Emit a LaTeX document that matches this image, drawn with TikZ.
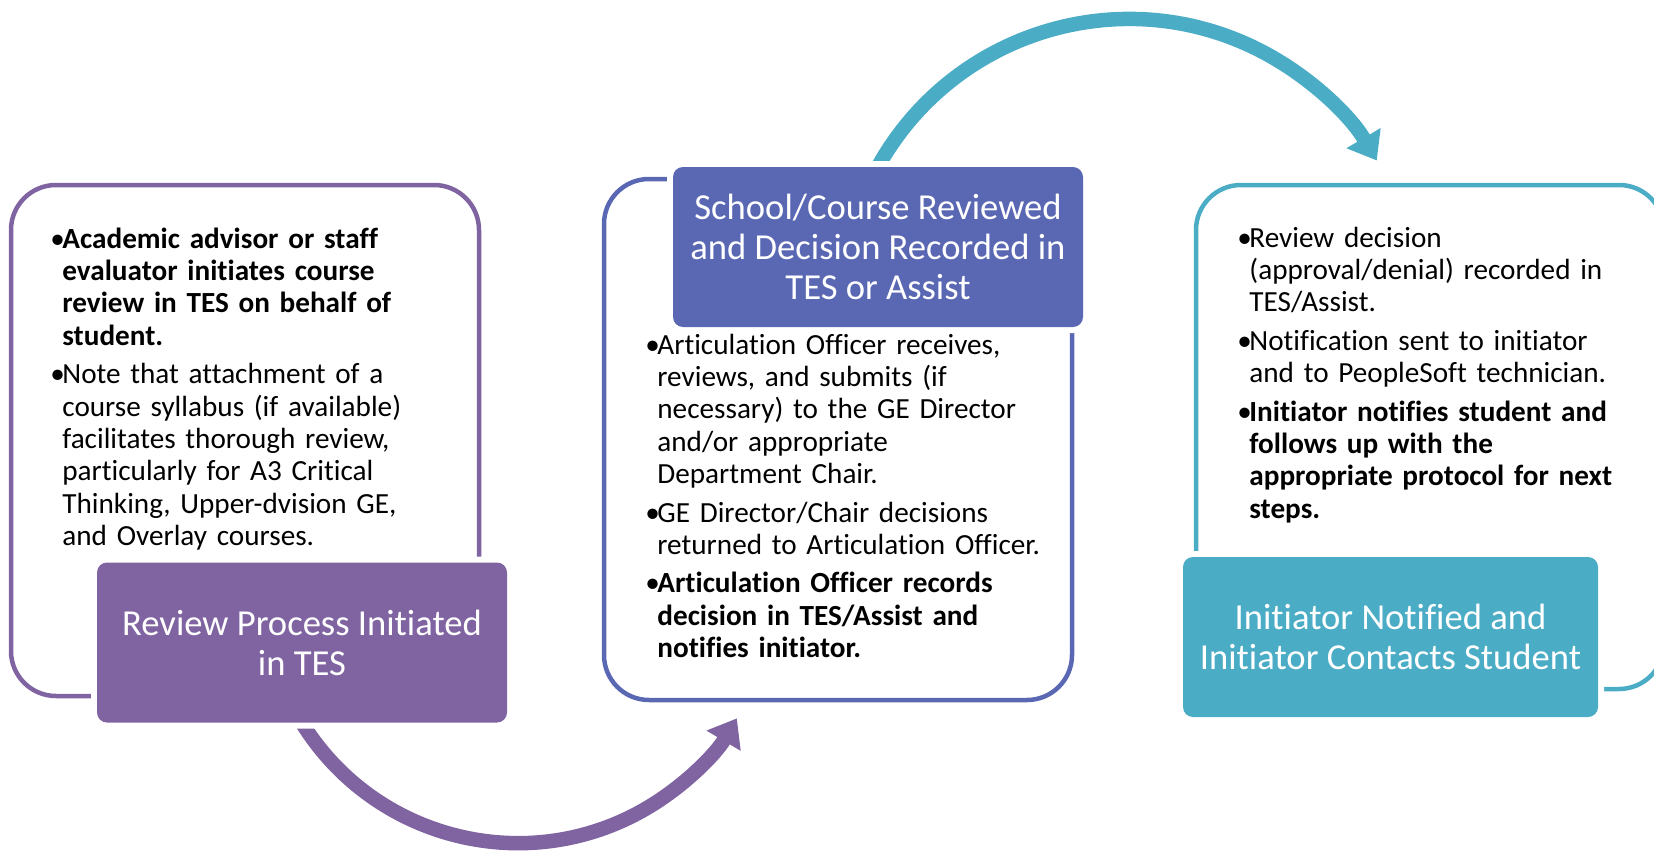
\documentclass[tikz,border=0pt]{standalone}
\usepackage{fontspec}
\setmainfont{Carlito}[Ligatures=NoCommon]
\usetikzlibrary{arrows.meta, backgrounds, positioning}

\definecolor{cyclepurple}{HTML}{8064A2}
\definecolor{cycleblue}{HTML}{5A68B4}
\definecolor{cycleteal}{HTML}{4BACC6}

\newcommand{\itm}[1]{\hangindent=6pt\hangafter=1\makebox[6pt][l]{•}#1\par\vspace{3pt}}

\begin{document}
\begin{tikzpicture}[x=0.5pt, y=-0.5pt,
    panel/.style={draw=#1, line width=2.25pt, rounded corners=22.5pt},
    head/.style={fill=#1, text=white, rounded corners=5pt, align=center,
      minimum width=205pt, minimum height=80pt, inner sep=0pt,
      preaction={draw=white, line width=6pt},
      font=\fontsize{18.3}{20}\selectfont},
    notes/.style={anchor=base west, text width=232pt, inner sep=0pt,
      font=\fontsize{14.6}{16.2}\selectfont},
    flow/.style={draw=#1, line width=7.25pt, -{Triangle[width=19pt, length=13pt]}}]
  \useasboundingbox (0,0) rectangle (1654,851);

  %► Outline panels
  \draw[panel=cyclepurple] (11,185)   rectangle (479,696);
  \draw[panel=cycleblue]   (604,179)  rectangle (1072,700);
  \draw[panel=cycleteal]   (1196,185) rectangle (1664,689);

  %► Step headers
  \node[head=cyclepurple] (review) at (302,642.5) {Review Process Initiated\\in TES};
  \node[head=cycleblue]   (school) at (878,247)   {School/Course Reviewed\\and Decision Recorded in\\TES or Assist};
  \node[head=cycleteal, minimum width=207.5pt] (notify) at (1390.5,637) {Initiator Notified and\\Initiator Contacts Student};

  %► Cycle arrows
  \begin{scope}[on background layer]
    \draw[flow=cyclepurple] (review.south) arc[start angle=211.8, end angle=329.4, radius=127.1pt];
    \draw[flow=cycleteal]   (school.north) arc[start angle=150.9, end angle=30.5, radius=143.7pt];
  \end{scope}

  %► Bullet notes
  \node[notes] (initnotes) at (50,248) {%
    \itm{\textbf{Academic advisor or staff\newline evaluator initiates course\newline review in TES on behalf of\newline student.}}%
    \itm{Note that attachment of a\newline course syllabus (if available)\newline facilitates thorough review,\newline particularly for A3 Critical\newline Thinking, Upper-dvision GE,\newline and Overlay courses.}};
  \node[notes] (schoolnotes) at (645,354) {%
    \itm{Articulation Officer receives,\newline reviews, and submits (if\newline necessary) to the GE Director\newline and/or appropriate\newline Department Chair.}%
    \itm{GE Director/Chair decisions\newline returned to Articulation Officer.}%
    \itm{\textbf{Articulation Officer records\newline decision in TES/Assist and\newline notifies initiator.}}};
  \node[notes] (notifynotes) at (1237,247) {%
    \itm{Review decision\newline (approval/denial) recorded in\newline TES/Assist.}%
    \itm{Notification sent to initiator\newline and to PeopleSoft technician.}%
    \itm{\textbf{Initiator notifies student and\newline follows up with the\newline appropriate protocol for next\newline steps.}}};
\end{tikzpicture}
\end{document}
